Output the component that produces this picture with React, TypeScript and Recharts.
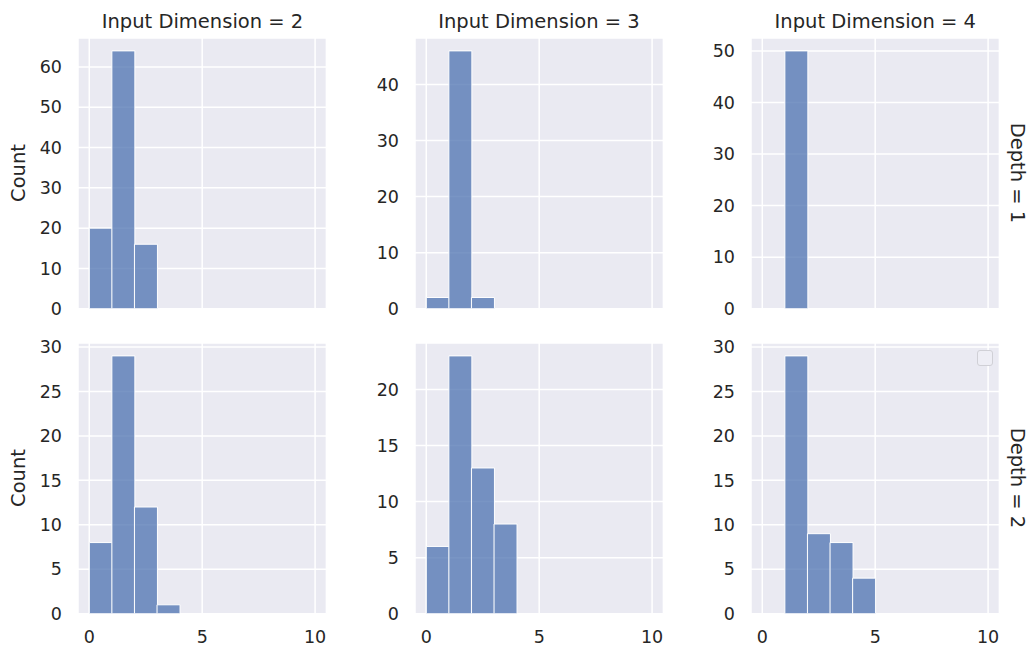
import React from "react";
import { ComposedChart, Bar, XAxis, YAxis, CartesianGrid } from "recharts";

// ---- data ----
const binCenters = [0.5, 1.5, 2.5, 3.5, 4.5, 5.5, 6.5, 7.5, 8.5, 9.5];

const countsDepth1Dim2 = [20, 64, 16, 0, 0, 0, 0, 0, 0, 0];
const countsDepth1Dim3 = [2, 46, 2, 0, 0, 0, 0, 0, 0, 0];
const countsDepth1Dim4 = [0, 50, 0, 0, 0, 0, 0, 0, 0, 0];
const countsDepth2Dim2 = [8, 29, 12, 1, 0, 0, 0, 0, 0, 0];
const countsDepth2Dim3 = [6, 23, 13, 8, 0, 0, 0, 0, 0, 0];
const countsDepth2Dim4 = [0, 29, 9, 8, 4, 0, 0, 0, 0, 0];

const yTicksDepth1Dim2 = [0, 10, 20, 30, 40, 50, 60];
const yTicksDepth1Dim3 = [0, 10, 20, 30, 40];
const yTicksDepth1Dim4 = [0, 10, 20, 30, 40, 50];
const yTicksDepth2Dim2 = [0, 5, 10, 15, 20, 25, 30];
const yTicksDepth2Dim3 = [0, 5, 10, 15, 20];
const yTicksDepth2Dim4 = [0, 5, 10, 15, 20, 25, 30];

const xTicks = [0, 5, 10];
const xDomain = [-0.5, 10.5];

const colTitles = ["Input Dimension = 2", "Input Dimension = 3", "Input Dimension = 4"];
const rowTitles = ["Depth = 1", "Depth = 2"];
const yLabel = "Count";

// ---- layout / style ----
const FONT = "DejaVu Sans";
const TEXT = "#262626";
const TITLE_SIZE = 19.5;
const TICK_SIZE = 17.5;
const PLOT_W = 248.4;
const PLOT_H = 270.7;
const COL_LEFT = [78.3, 414.8, 751.1];
const ROW_TOP = [37.7, 342.6];
const ML = 60;
const MT = 20;
const MR = 10;
const MB = 36;

type PanelProps = {
  counts: number[];
  yTicks: number[];
  showX: boolean;
  left: number;
  top: number;
};

const EmptyTick = () => <g />;

function Panel({ counts, yTicks, showX, left, top }: PanelProps) {
  const data = binCenters.map((x, i) => ({ x, count: counts[i] }));
  const yMax = Math.max(...counts) * 1.05;
  const tickStyle = { fill: TEXT, fontSize: TICK_SIZE, fontFamily: FONT };
  return (
    <div style={{ position: "absolute", left: left - ML, top: top - MT }}>
      <ComposedChart
        width={ML + PLOT_W + MR}
        height={MT + PLOT_H + MB}
        data={data}
        margin={{ top: MT, right: MR, bottom: 0, left: 0 }}
        barCategoryGap={0}
        barGap={0}
      >
        <CartesianGrid fill="#EAEAF2" fillOpacity={1} stroke="#ffffff" strokeWidth={1.5} />
        <XAxis
          dataKey="x"
          type="number"
          domain={xDomain}
          ticks={xTicks}
          allowDataOverflow
          interval={0}
          height={MB}
          tick={showX ? tickStyle : EmptyTick}
          tickLine={false}
          axisLine={false}
          tickSize={0}
          tickMargin={16.5}
        />
        <YAxis
          type="number"
          domain={[0, yMax]}
          ticks={yTicks}
          allowDataOverflow
          interval={0}
          width={ML}
          tick={tickStyle}
          tickLine={false}
          axisLine={false}
          tickSize={0}
          tickMargin={16}
        />
        <Bar
          dataKey="count"
          fill="#4C72B0"
          fillOpacity={0.75}
          stroke="#ffffff"
          strokeWidth={1}
          isAnimationActive={false}
        />
      </ComposedChart>
    </div>
  );
}

const panels = [
  { counts: countsDepth1Dim2, yTicks: yTicksDepth1Dim2, row: 0, col: 0 },
  { counts: countsDepth1Dim3, yTicks: yTicksDepth1Dim3, row: 0, col: 1 },
  { counts: countsDepth1Dim4, yTicks: yTicksDepth1Dim4, row: 0, col: 2 },
  { counts: countsDepth2Dim2, yTicks: yTicksDepth2Dim2, row: 1, col: 0 },
  { counts: countsDepth2Dim3, yTicks: yTicksDepth2Dim3, row: 1, col: 1 },
  { counts: countsDepth2Dim4, yTicks: yTicksDepth2Dim4, row: 1, col: 2 },
];

export default function App() {
  const labelBase: React.CSSProperties = {
    position: "absolute",
    fontFamily: FONT,
    fontSize: TITLE_SIZE,
    color: TEXT,
    lineHeight: "22px",
    whiteSpace: "nowrap",
    textAlign: "center",
  };
  return (
    <div
      style={{
        position: "absolute",
        left: 0,
        top: 0,
        width: 1033,
        height: 650,
        background: "#ffffff",
        overflow: "hidden",
        fontFamily: FONT,
      }}
    >
      {panels.map((p, i) => (
        <Panel
          key={i}
          counts={p.counts}
          yTicks={p.yTicks}
          showX={p.row === 1}
          left={COL_LEFT[p.col]}
          top={ROW_TOP[p.row]}
        />
      ))}
      {colTitles.map((t, c) => (
        <div
          key={t}
          style={{
            ...labelBase,
            left: COL_LEFT[c] - 20,
            width: PLOT_W + 40,
            top: 10.5,
          }}
        >
          {t}
        </div>
      ))}
      {ROW_TOP.map((rt, r) => (
        <div
          key={"cnt" + r}
          style={{
            ...labelBase,
            left: 19 - 50,
            top: rt + PLOT_H / 2 - 11,
            width: 100,
            transform: "rotate(-90deg)",
          }}
        >
          {yLabel}
        </div>
      ))}
      {rowTitles.map((t, r) => (
        <div
          key={t}
          style={{
            ...labelBase,
            left: 1017 - 60,
            top: ROW_TOP[r] + PLOT_H / 2 - 11,
            width: 120,
            transform: "rotate(90deg)",
          }}
        >
          {t}
        </div>
      ))}
      <div
        style={{
          position: "absolute",
          left: 977,
          top: 350,
          width: 14,
          height: 14,
          border: "1.2px solid #d0d0d6",
          borderRadius: 3,
          background: "#eeeef5",
        }}
      />
    </div>
  );
}
